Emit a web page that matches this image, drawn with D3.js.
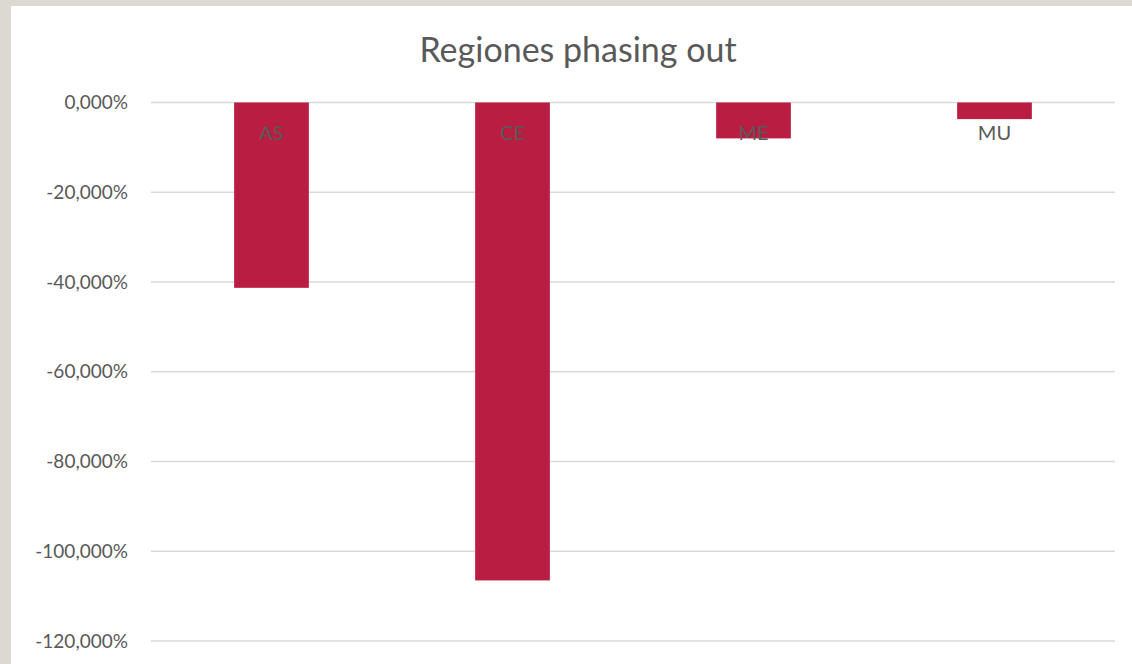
<!DOCTYPE html>
<html>
    <head>
        <script src="https://d3js.org/d3.v7.min.js"></script>
        <style>
            body {
                margin: 0;
                overflow: hidden;
                background: #dcd9d3;
            }
            .frame {
                position: absolute;
                left: 11px;
                top: 6px;
                width: 1121px;
                height: 658px;
                background: #fff;
            }
            svg {
                position: absolute;
                left: 0;
                top: 0;
            }
            text {
                font-family: 'Lato', 'Open Sans', sans-serif;
                fill: #595959;
            }
        </style>
    </head>

    <body>
        <div class="frame"></div>
        <script>
            const title = 'Regiones phasing out';
            const categories = ['AS', 'CE', 'ME', 'MU'];
            const values = [-41.3, -106.5, -8.0, -3.7];
            const yTicks = [0, -20, -40, -60, -80, -100, -120];

            const width = 1132;
            const height = 664;
            const margin = { left: 151, right: 17, top: 102.5, bottom: 23 };

            const locale = d3.formatLocale({ decimal: ',', thousands: '.', grouping: [3], currency: ['', '€'], minus: '-' });
            const fmt = (v) => locale.format('.3f')(v) + '%';

            const svg = d3.select('body').append('svg').attr('width', width).attr('height', height);

            const x = d3
                .scaleBand()
                .domain(categories)
                .range([margin.left, width - margin.right])
                .paddingInner(0.69)
                .paddingOuter(0.345);
            const y = d3
                .scaleLinear()
                .domain([-120, 0])
                .range([height - margin.bottom, margin.top]);

            // gridlines
            svg.append('g')
                .selectAll('line')
                .data(yTicks)
                .enter()
                .append('line')
                .attr('x1', margin.left)
                .attr('x2', width - margin.right)
                .attr('y1', (d) => y(d))
                .attr('y2', (d) => y(d))
                .attr('stroke', '#d9d9d9')
                .attr('stroke-width', 1.5);

            // y labels
            svg.append('g')
                .selectAll('text')
                .data(yTicks)
                .enter()
                .append('text')
                .attr('x', 128)
                .attr('y', (d) => y(d))
                .attr('dy', '0.35em')
                .attr('text-anchor', 'end')
                .style('font-size', '19px')
                .text((d) => fmt(d));

            // bars
            svg.append('g')
                .selectAll('rect')
                .data(values)
                .enter()
                .append('rect')
                .attr('x', (d, i) => x(categories[i]))
                .attr('width', x.bandwidth())
                .attr('y', y(0))
                .attr('height', (d) => y(d) - y(0))
                .attr('fill', '#b91e42');

            // category labels just below the zero line
            svg.append('g')
                .selectAll('text')
                .data(categories)
                .enter()
                .append('text')
                .attr('x', (d) => x(d) + x.bandwidth() / 2)
                .attr('y', y(0) + 37)
                .attr('text-anchor', 'middle')
                .style('font-size', '20px')
                .text((d) => d);

            svg.append('text')
                .attr('x', 578)
                .attr('y', 62)
                .attr('text-anchor', 'middle')
                .style('font-size', '34px')
                .text(title);
        </script>
    </body>
</html>
